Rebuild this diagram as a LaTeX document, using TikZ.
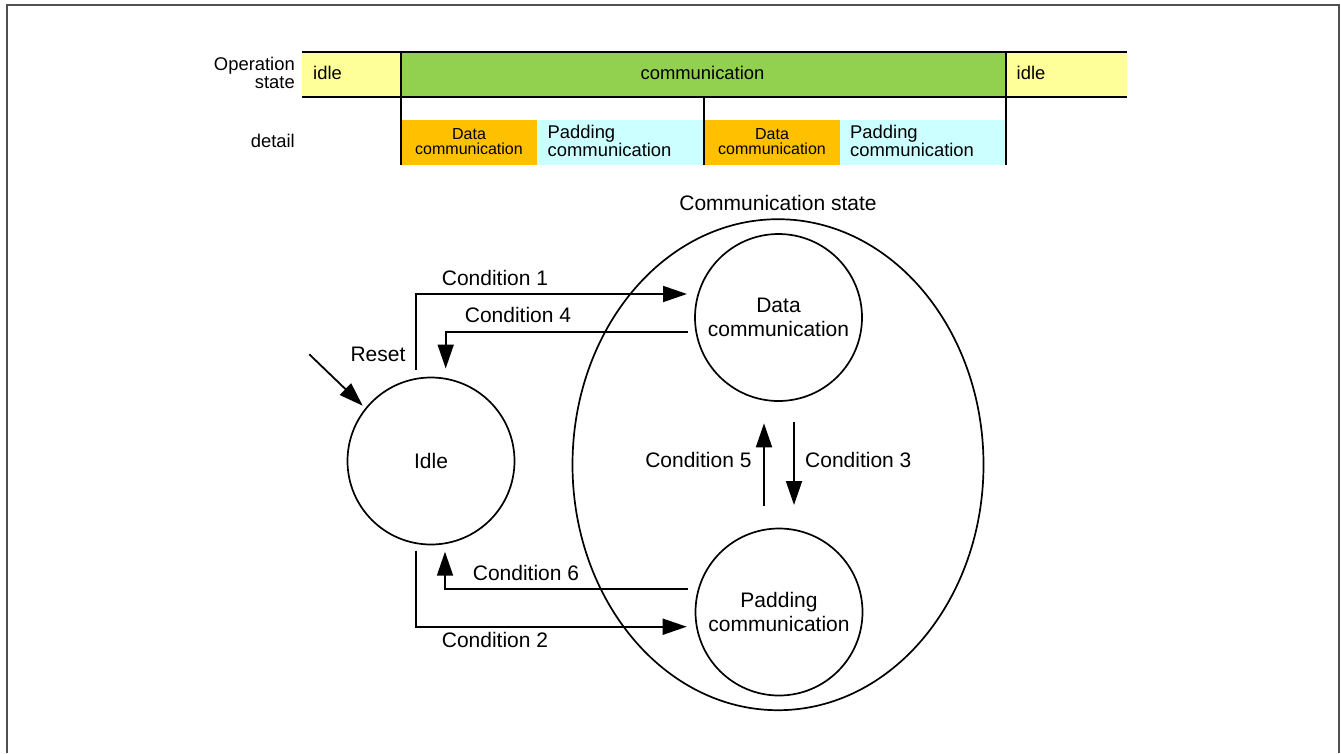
\documentclass[tikz,border=0pt]{standalone}
\usepackage{fontspec}
\setmainfont{Liberation Sans}
\usetikzlibrary{arrows.meta,shapes.geometric}
\definecolor{idleY}{HTML}{FFFF99}
\definecolor{commG}{HTML}{92D050}
\definecolor{dataO}{HTML}{FFC000}
\definecolor{padC}{HTML}{CCFFFF}
\definecolor{frameG}{HTML}{505050}
\tikzset{
  big/.style={font=\fontsize{21}{24.5}\selectfont},
  tl/.style={font=\fontsize{18.4}{18}\selectfont},
  sm/.style={font=\fontsize{16}{15.5}\selectfont},
  statenode/.style={circle,draw,line width=1.7pt,minimum size=167pt,inner sep=0pt,align=center,big},
  conn/.style={line width=1.8pt,-{Triangle[length=24pt,width=16pt]}},
  bar/.style={line width=2pt},
}
\begin{document}
\begin{tikzpicture}[x=1pt,y=-1pt]
\useasboundingbox (0,0) rectangle (1341,753);
% frame
\draw[frameG,line width=2pt] (6.5,753) -- (6.5,5) -- (1339,5) -- (1339,753);

% timeline fills
\fill[idleY] (302,52) rectangle (401,97);
\fill[commG] (401,52) rectangle (1006,97);
\fill[idleY] (1006,52) rectangle (1127,97);
\fill[dataO] (401,120) rectangle (537,165);
\fill[padC] (537,120) rectangle (704,165);
\fill[dataO] (704,120) rectangle (840,165);
\fill[padC] (840,120) rectangle (1006,165);
% timeline lines
\draw[bar] (302,52) -- (1127,52);
\draw[bar] (302,97) -- (1127,97);
\draw[bar] (401,52) -- (401,165);
\draw[bar] (1006,52) -- (1006,165);
\draw[bar] (704,97) -- (704,165);
% timeline texts
\node[tl,align=right,anchor=east,inner sep=0pt] (opstate) at (295,72.5) {Operation\\state};
\node[tl,anchor=east,inner sep=0pt] (detail) at (295,141) {detail};
\node[tl,anchor=west,inner sep=0pt] (idle1) at (313,73) {idle};
\node[tl] (commbar) at (702.5,73) {communication};
\node[tl,anchor=west,inner sep=0pt] (idle2) at (1016.5,73) {idle};
\node[sm,align=center] (data1) at (469,141.5) {Data\\communication};
\node[tl,align=left,anchor=west,inner sep=0pt] (pad1) at (547.5,141) {Padding\\communication};
\node[sm,align=center] (data2) at (772,141.5) {Data\\communication};
\node[tl,align=left,anchor=west,inner sep=0pt] (pad2) at (850,141) {Padding\\communication};

% state diagram
\node[ellipse,draw,line width=1.7pt,minimum width=411pt,minimum height=491pt,inner sep=0pt] (commstate) at (778,464.7) {};
\node[big] (commlabel) at (778,203.3) {Communication state};
\node[statenode] (idle) at (431,461) {Idle};
\node[statenode] (data) at (778.5,317.5) {Data\\communication};
\node[statenode] (pad) at (779,612) {Padding\\communication};

% connector end points
\coordinate (c1s) at (415.7,369.5);
\coordinate (c1e) at (687,294);
\coordinate (c4s) at (688,332);
\coordinate (c4e) at (445.7,368.5);
\coordinate (rs) at (309.3,354.3);
\coordinate (re) at (362.7,405.7);
\coordinate (c5s) at (764,506);
\coordinate (c5e) at (764,423.3);
\coordinate (c3s) at (794,421.7);
\coordinate (c3e) at (794,505);
\coordinate (c6s) at (688.3,589);
\coordinate (c6e) at (445,551.7);
\coordinate (c2s) at (415.7,550.7);
\coordinate (c2e) at (686.7,626.7);

\draw[conn] (c1s) |- (c1e);
\draw[conn] (c4s) -| (c4e);
\draw[conn] (rs) -- (re);
\draw[conn] (c5s) -- (c5e);
\draw[conn] (c3s) -- (c3e);
\draw[conn] (c6s) -| (c6e);
\draw[conn] (c2s) |- (c2e);

% labels
\node[big] (l1) at (495,277.7) {Condition 1};
\node[big] (l4) at (518,315) {Condition 4};
\node[big] (lreset) at (378,354) {Reset};
\node[big,anchor=east,inner sep=0pt] (l5) at (751.7,460) {Condition 5};
\node[big,anchor=west,inner sep=0pt] (l3) at (805,460) {Condition 3};
\node[big] (l6) at (526,572.7) {Condition 6};
\node[big] (l2) at (495,640) {Condition 2};
\end{tikzpicture}
\end{document}
